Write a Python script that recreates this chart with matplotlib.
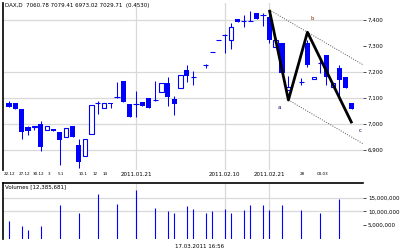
import numpy as np
import matplotlib
matplotlib.use("Agg")
import matplotlib.pyplot as plt

# ---------------- data ----------------
opens = [7082, 7082, 7057.7, 6988.5, 6988.5, 7001, 6978, 6981, 6969, 6949,
         6991, 6919, 6877, 6960, 7079.6, 7060.4, 7080.8, 7105, 7165.4, 7077,
         7077, 7085.8, 7101, 7092, 7124, 7159, 7096, 7137, 7208, 7179,
         np.nan, 7226, 7277, 7322, 7343.5, 7322, 7404, 7397, 7398, 7426,
         7419, 7413, 7295, 7311.5, 7131, np.nan, 7162, 7311.5, 7172, 7235,
         7265, 7141, 7215, 7181, 7081]
highs = [7088.5, 7082, 7057.7, 6992.3, 6992, 7011.5, 6991, 6981, 6969, 6983,
         6991, 6943.5, 6942, 7072, 7089.6, 7079.6, 7080.8, 7163, 7165.4, 7077,
         7127, 7085.8, 7101, 7165, 7158, 7182, 7109, 7188.5, 7227, 7204,
         np.nan, 7231, 7278, 7323, 7344, 7390, 7404, 7419, 7435, 7426,
         7426, 7420, 7323, 7311.5, 7185, np.nan, 7177, 7323, 7182, 7258,
         7265, 7159, 7227, 7181, 7081]
lows = [7066.6, 7058.8, 6943.5, 6957.7, 6977, 6897.3, 6978, 6973, 6844, 6949,
        6949, 6832, 6877, 6960, 7037, 7060.4, 7061.5, 7101, 7085.8, 7025.8,
        7025.8, 7070.4, 7063, 7089.6, 7124, 7069, 7035, 7137, 7161.5, 7150,
        np.nan, 7215, 7276, 7321, 7272, 7287, 7392, 7374, 7397, 7404,
        7377, 7311.5, 7295, 7196, 7131, np.nan, 7150, 7219, 7172, 7196,
        7150, 7141, 7092, 7138.5, 7058]
closes = [7066.6, 7058.8, 6970.4, 6973, 6991, 6912.7, 6991, 6973, 6938.5, 6983,
          6949, 6855, 6942, 7072, 7080.5, 7079.6, 7077, 7104, 7085.8, 7025.8,
          7076, 7070.4, 7063, 7091, 7158, 7105, 7077, 7188.5, 7185, 7180,
          np.nan, 7226, 7277, 7322, 7343, 7374, 7392, 7397, 7397, 7404,
          7418, 7323, 7323, 7196, 7143.5, np.nan, 7161, 7227, 7182, 7234,
          7181, 7159, 7169, 7138.5, 7058]

vol_idx = [0, 2, 3, 5, 8, 11, 14, 17, 20, 23, 25, 26, 28, 29, 31, 32, 34, 35,
           37, 38, 40, 41, 43, 46, 49, 52]
vol_vals = [6.4, 4.6, 3.2, 4.6, 12.3, 9.6, 16.4, 12.6, 17.9, 11.1, 10.0, 9.6,
            11.8, 10.7, 9.6, 10.0, 10.7, 9.6, 10.4, 12.5, 12.5, 10.4, 12.3,
            10.4, 9.6, 14.6]  # millions

zz_x = [41, 44, 47, 54]
zz_y = [7438.5, 7092, 7352.7, 7002.7]
wave_labels = ["a", "b", "c"]
wave_x = [42.6, 47.7, 55.3]
wave_y = [7064, 7406, 6974]
wave_colors = ["#000070", "#8B2A00", "#000040"]

price_ticks = [6900, 7000, 7100, 7200, 7300, 7400]
price_grid = [6900, 7000, 7100, 7200, 7400]
vgrid = [20, 34, 41]
vol_ticks = [5, 10, 15]
vol_grid = [10, 15]

# small date labels (left-aligned at their start) and big centred labels
small_pos = [-0.9, 1.45, 3.8, 6.15, 7.6, 10.9, 13.2, 14.8, 45.8, 48.4]
small_txt = ["22.12", "27.12", "30.12", "3", "5.1", "10.1", "12", "14",
             "28", "03.03"]
big_pos = [20, 34, 41]
big_txt = ["2011.01.21", "2011.02.10", "2011.02.21"]

title = "DAX,D  7060.78 7079.41 6973.02 7029.71  (0.4530)"
vol_title = "Volumes [12,385,681]"
footer = "17.03.2011 16:56"

BLUE = "#0000ff"
GRID = "#d9d9d9"
FS = 4

# ---------------- figure ----------------
fig = plt.figure(figsize=(4, 2.5), dpi=100)
ax = fig.add_axes([0.0075, 0.32, 0.9, 0.668])
axv = fig.add_axes([0.0075, 0.044, 0.9, 0.224])

xmin, xmax = -0.95, 55.75

for i in range(len(opens)):
    o, h, l, c = opens[i], highs[i], lows[i], closes[i]
    if np.isnan(o):
        continue
    ax.vlines(i, l, h, color=BLUE, lw=0.75, zorder=2)
    top, bot = max(o, c), min(o, c)
    if top - bot < 1.5:
        ax.hlines(c, i - 0.4, i + 0.4, color=BLUE, lw=0.8, zorder=3)
    elif c < o:
        ax.bar(i, top - bot, bottom=bot, width=0.82, color=BLUE, lw=0, zorder=3)
    else:
        ax.bar(i, top - bot, bottom=bot, width=0.7, facecolor="white",
               edgecolor=BLUE, lw=0.8, zorder=3)

# zigzag and channel
ax.plot(zz_x, zz_y, color="black", lw=2.0, zorder=5, solid_capstyle="butt")
slope = (zz_y[2] - zz_y[0]) / (zz_x[2] - zz_x[0])
ax.plot([zz_x[0], xmax], [zz_y[0], zz_y[0] + slope * (xmax - zz_x[0])],
        color="#555555", lw=0.7, ls=(0, (1, 1.5)), zorder=4)
ax.plot([zz_x[1], xmax], [zz_y[1], zz_y[1] + slope * (xmax - zz_x[1])],
        color="#555555", lw=0.7, ls=(0, (1, 1.5)), zorder=4)
for t, xx, yy, cc in zip(wave_labels, wave_x, wave_y, wave_colors):
    ax.text(xx, yy, t, color=cc, fontsize=FS, ha="center", va="center", zorder=6)

for g in price_grid:
    ax.axhline(g, color=GRID, lw=0.9, zorder=0)
for g in vgrid:
    ax.axvline(g, color=GRID, lw=0.9, zorder=0)
    axv.axvline(g, color=GRID, lw=0.9, zorder=0)
for g in vol_grid:
    axv.axhline(g, color=GRID, lw=0.9, zorder=0)

ax.set_xlim(xmin, xmax)
ax.set_ylim(6823, 7465)
ax.yaxis.tick_right()
ax.set_yticks(price_ticks)
ax.set_yticklabels([f"{v:,}" for v in price_ticks])
ax.tick_params(axis="y", length=2, width=0.5, pad=1.5, labelsize=FS)
ax.set_xticks([])
for s in ["top", "right", "bottom"]:
    ax.spines[s].set_visible(False)
ax.spines["left"].set_linewidth(1.2)

xt = ax.get_xaxis_transform()
for p, t in zip(small_pos, small_txt):
    ax.text(p, -0.012, t, transform=xt, fontsize=3.0, ha="left", va="top")
for p, t in zip(big_pos, big_txt):
    ax.text(p, -0.012, t, transform=xt, fontsize=FS, ha="center", va="top")

axv.vlines(vol_idx, 0, vol_vals, color=BLUE, lw=0.8, zorder=2)
axv.set_xlim(xmin, xmax)
axv.set_ylim(0, 20.3)
axv.yaxis.tick_right()
axv.set_yticks(vol_ticks)
axv.set_yticklabels([f"{v * 1000000:,}" for v in vol_ticks])
axv.tick_params(axis="y", length=2, width=0.5, pad=1.5, labelsize=FS)
axv.set_xticks([])
for s in ["right", "bottom"]:
    axv.spines[s].set_visible(False)
axv.spines["left"].set_linewidth(1.2)
axv.spines["top"].set_linewidth(1.2)
axv.text(0.005, 0.93, vol_title, transform=axv.transAxes, fontsize=FS,
         ha="left", va="center")

fig.text(5 / 400, 1 - 6 / 250, title, fontsize=FS, ha="left", va="center")
fig.text(200 / 400, 1 - 246 / 250, footer, fontsize=FS, ha="center", va="center")

fig.savefig("out.png", dpi=100)
